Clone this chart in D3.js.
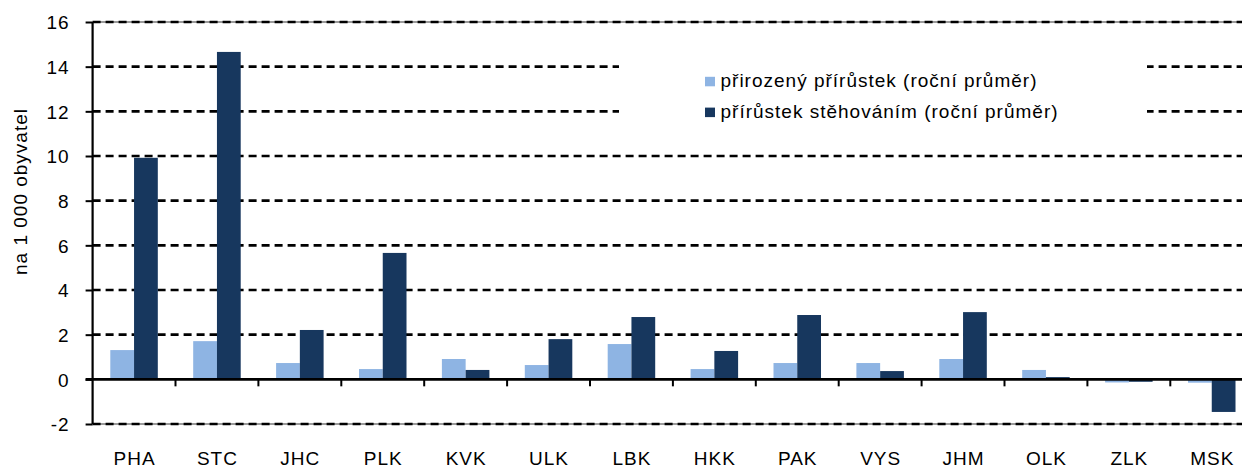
<!DOCTYPE html>
<html>
<head>
<meta charset="utf-8">
<script src="https://cdn.jsdelivr.net/npm/d3@7"></script>
<style>
  html, body { margin: 0; padding: 0; background: #fff; }
  svg { display: block; }
  text { font-family: "Liberation Sans", Arial, sans-serif; fill: #000; }
</style>
</head>
<body>
<svg id="chart" width="1242" height="468"></svg>
<script>
// Kraje ČR
const categories = ["PHA", "STC", "JHC", "PLK", "KVK", "ULK", "LBK", "HKK", "PAK", "VYS", "JHM", "OLK", "ZLK", "MSK"];
// přirozený přírůstek, na 1 000 obyvatel
const naturalIncrease = [1.31, 1.71, 0.73, 0.46, 0.91, 0.64, 1.58, 0.46, 0.73, 0.73, 0.91, 0.42, -0.14, -0.15];
// přírůstek stěhováním, na 1 000 obyvatel
const migrationIncrease = [9.92, 14.66, 2.21, 5.66, 0.42, 1.80, 2.79, 1.27, 2.88, 0.37, 3.01, 0.10, -0.11, -1.46];
const seriesNames = ["přirozený přírůstek (roční průměr)", "přírůstek stěhováním (roční průměr)"];
const yTicks = [-2, 0, 2, 4, 6, 8, 10, 12, 14, 16];
const yTickLabels = ["-2", "0", "2", "4", "6", "8", "10", "12", "14", "16"];
const axisTitle = "na 1 000 obyvatel";

const colors = ["#8EB4E3", "#17375E"];
const series = [naturalIncrease, migrationIncrease];

const svg = d3.select("#chart");
const plotLeft = 92.6, plotTop = 22, plotBottom = 424;
const step = 82.9;

const x = d3.scaleBand()
  .domain(categories)
  .range([plotLeft, plotLeft + step * categories.length])
  .paddingInner(0).paddingOuter(0);
const xSub = d3.scaleBand()
  .domain(d3.range(series.length))
  .range([0, x.bandwidth()])
  .paddingInner(0).paddingOuter(0.745);
const y = d3.scaleLinear().domain([-2, 16]).range([plotBottom, plotTop]);

const fontCss = "font-family:'Liberation Sans', Arial, sans-serif; font-size:19px; letter-spacing:1px;";

// mřížka
const grid = svg.append("g");
grid.selectAll("line.edge")
  .data([16, -2])
  .join("line")
  .attr("class", "edge")
  .attr("x1", plotLeft).attr("x2", 1242)
  .attr("y1", d => y(d)).attr("y2", d => y(d))
  .attr("stroke", "#9a9a9a").attr("stroke-width", 2);
grid.selectAll("line.dash")
  .data(yTicks.filter(v => v !== 0))
  .join("line")
  .attr("class", "dash")
  .attr("x1", plotLeft).attr("x2", 1242)
  .attr("y1", d => y(d)).attr("y2", d => y(d))
  .attr("stroke", "#000").attr("stroke-width", 2.6)
  .attr("stroke-dasharray", "8,5");

// legenda – bílé pozadí přes mřížku
const legend = svg.append("g");
legend.append("rect")
  .attr("x", 619).attr("y", 44).attr("width", 528).attr("height", 88)
  .attr("fill", "#fff");

// sloupce
const groups = svg.append("g").selectAll("g")
  .data(series)
  .join("g")
  .attr("fill", (d, i) => colors[i]);
groups.selectAll("rect")
  .data((vals, si) => vals.map((v, ci) => ({ v, si, c: categories[ci] })))
  .join("rect")
  .attr("x", d => x(d.c) + xSub(d.si))
  .attr("width", xSub.bandwidth())
  .attr("y", d => y(Math.max(0, d.v)))
  .attr("height", d => Math.abs(y(d.v) - y(0)));

// osa x
const xAxis = svg.append("g");
xAxis.append("line")
  .attr("x1", plotLeft - 7).attr("x2", 1242)
  .attr("y1", y(0)).attr("y2", y(0))
  .attr("stroke", "#000").attr("stroke-width", 2.6);
xAxis.selectAll("line.tick")
  .data(categories.slice(1))
  .join("line")
  .attr("class", "tick")
  .attr("x1", d => x(d)).attr("x2", d => x(d))
  .attr("y1", y(0)).attr("y2", y(0) + 7)
  .attr("stroke", "#000").attr("stroke-width", 2);
xAxis.selectAll("text")
  .data(categories)
  .join("text")
  .attr("x", d => x(d) + x.bandwidth() / 2 + 0.5)
  .attr("y", 465)
  .attr("text-anchor", "middle")
  .attr("style", fontCss)
  .text(d => d);

// osa y
const yAxis = svg.append("g")
  .attr("transform", `translate(${plotLeft},0)`)
  .call(d3.axisLeft(y).tickValues(yTicks).tickSize(7).tickPadding(16)
    .tickFormat((d, i) => yTickLabels[i]));
yAxis.attr("font-family", null).attr("font-size", null);
yAxis.select(".domain").attr("stroke", "#000").attr("stroke-width", 2.2).attr("d", `M0,${plotTop}V${plotBottom}`);
yAxis.selectAll(".tick line").attr("stroke", "#000").attr("stroke-width", 2);
yAxis.selectAll(".tick text")
  .attr("fill", "#000")
  .attr("style", fontCss)
  .attr("dy", "0.36em");

svg.append("text")
  .attr("transform", "translate(27,191.5) rotate(-90)")
  .attr("text-anchor", "middle")
  .attr("style", fontCss)
  .text(axisTitle);

// položky legendy
const items = legend.selectAll("g.item")
  .data(seriesNames)
  .join("g")
  .attr("class", "item")
  .attr("transform", (d, i) => `translate(705,${76.8 + i * 30.8})`);
items.append("rect")
  .attr("width", 10).attr("height", 9.5)
  .attr("fill", (d, i) => colors[i]);
items.append("text")
  .attr("x", 15.5).attr("y", 10.5)
  .attr("style", fontCss)
  .text(d => d);
</script>
</body>
</html>
